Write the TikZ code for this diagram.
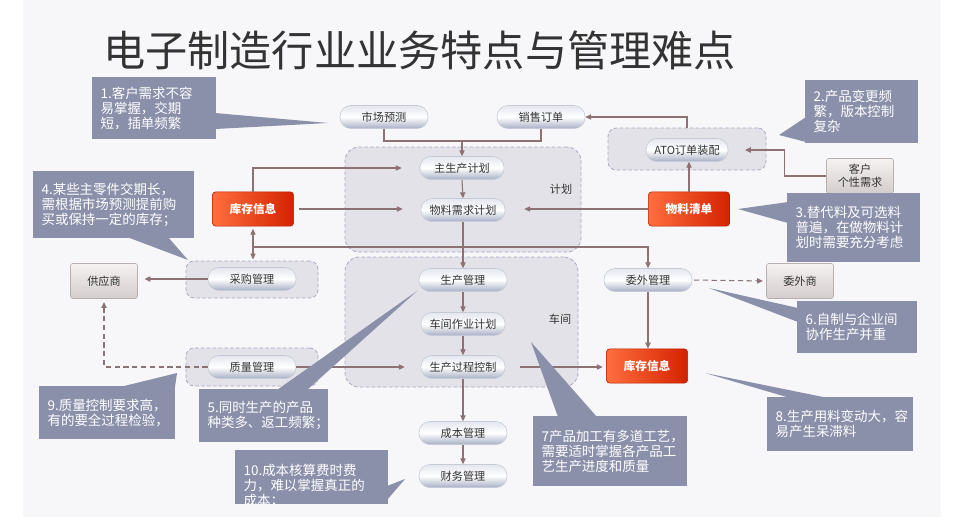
\documentclass[tikz,border=0pt]{standalone}
\usepackage{fontspec}
\usepackage{tikz}
\usetikzlibrary{arrows.meta, positioning, calc, fit}
\usepackage{xcolor}
\newfontfamily\cjk{Noto Sans CJK SC}
\definecolor{LBrown}{HTML}{8C7272}
\definecolor{CGray}{HTML}{8A90AA}
\definecolor{GFill}{HTML}{E2E2E8}
\definecolor{GLine}{HTML}{ABA7C8}
\definecolor{RedL}{HTML}{FF6E3E}
\definecolor{RedR}{HTML}{D42200}
\definecolor{PTop}{HTML}{E4E7EF}
\definecolor{PBot}{HTML}{A8B0C6}
\definecolor{PLine}{HTML}{C6CAD6}
\definecolor{BTop}{HTML}{F5F2F2}
\definecolor{BBot}{HTML}{D4CCCC}
\definecolor{BLine}{HTML}{B8B0B0}
\definecolor{SlideBg}{HTML}{F7F7F9}
\definecolor{DText}{HTML}{333333}

\begin{document}
\begin{tikzpicture}[x=0.03cm, y=-0.03cm, >={Triangle[length=5pt,width=4.5pt]},
  font=\cjk\fontsize{9.5}{11}\selectfont, text=DText,
  pill/.style={rounded corners=0.33cm, top color=PTop, bottom color=PBot, middle color=white,
    draw=PLine, line width=0.5pt, minimum width=2.64cm, minimum height=0.69cm, inner sep=0pt},
  pillsm/.style={pill, minimum width=2.52cm},
  redbox/.style={rounded corners=3pt, left color=RedL, right color=RedR, draw=RedR!85!black,
    line width=0.5pt, minimum width=2.44cm, minimum height=1.03cm, text=white,
    font=\cjk\bfseries\fontsize{10}{12}\selectfont},
  greybox/.style={rounded corners=2pt, top color=BTop, bottom color=BBot, draw=BLine,
    line width=0.5pt, minimum width=2.01cm, minimum height=1.05cm, align=center, inner sep=0pt},
  grp/.style={fill=GFill, draw=GLine, dash pattern=on 3pt off 2pt, line width=0.7pt,
    rounded corners=12pt, inner sep=0pt},
  grpsm/.style={grp, rounded corners=7pt},
  conn/.style={draw=LBrown, line width=0.9pt},
  dashconn/.style={conn, dash pattern=on 4.5pt off 3pt},
  notebox/.style={fill=CGray, text=white, anchor=north west, align=left, inner xsep=0.25cm,
    inner ysep=0pt, font=\cjk\fontsize{11.5}{12.8}\selectfont}
]
  \useasboundingbox (0,0) rectangle (964,521);
  % Slide
  \fill[white] (0,0) rectangle (964,521);
  \fill[SlideBg] (23,0) rectangle (941,517);
  \node[anchor=west, inner sep=0pt, font=\cjk\fontsize{36}{40}\selectfont] (title) at (103,50)
    {电子制造行业业务特点与管理难点};

  % Groups
  \node[grp, fit={(345,147) (581,252)}] (plangrp) {};
  \node[grp, fit={(345,257) (578,387)}] (shopgrp) {};
  \node[grpsm, fit={(608,128) (766,170)}] (atogrp) {};
  \node[grpsm, fit={(186,261) (318,298)}] (purgrp) {};
  \node[grpsm, fit={(186,348) (318,386)}] (qcgrp) {};
  \node (planlbl) at (561,189) {计划};
  \node (shoplbl) at (560,319) {车间};

  % Process steps
  \node[pill] (mkt) at (384,117) {市场预测};
  \node[pill] (sales) at (541,117) {销售订单};
  \node[pillsm] (mps) at (462,168) {主生产计划};
  \node[pillsm] (mrp) at (463,210) {物料需求计划};
  \node[pill] (prod) at (463,280) {生产管理};
  \node[pillsm] (shop) at (463,324) {车间作业计划};
  \node[pillsm] (ctrl) at (463,367) {生产过程控制};
  \node[pill] (cost) at (463,433) {成本管理};
  \node[pill] (fin) at (463,476) {财务管理};
  \node[pillsm, minimum width=2.46cm] (ato) at (687,150) {ATO订单装配};
  \node[pill] (pur) at (252,279) {采购管理};
  \node[pill] (qc) at (252,367) {质量管理};
  \node[pill] (outs) at (648,280) {委外管理};

  \node[redbox] (inv1) at (253,209) {库存信息};
  \node[redbox] (bom) at (689,209) {物料清单};
  \node[redbox] (inv2) at (647,366) {库存信息};

  \node[greybox] (sup) at (104,281) {供应商};
  \node[greybox] (sub) at (800,281) {委外商};
  \node[greybox] (cust) at (860,176) {客户\\个性需求};

  % Flows
  \coordinate (jn) at (462,141);
  \draw[conn, ->] (mkt.south) |- (jn) -- (mps.north);
  \draw[conn] (sales.south) |- (jn);
  \draw[conn, ->] (atogrp.north) |- (sales.east);
  \draw[conn, ->, shorten >=0.5cm] (cust.west) -- ++(-42,0) |- (ato.east);
  \draw[conn, ->] (bom.north) -- (bom.north |- ato.south);
  \draw[conn, ->, shorten >=0.57cm] (bom.west) -- (bom.west -| mrp.east);
  \draw[conn, ->] (mps.south) -- (mrp.north);
  \draw[conn, ->, shorten >=0.54cm] (inv1.north) |- (mps.west);
  \draw[conn, ->, shorten <=0.15cm, shorten >=0.54cm] (inv1.east) -- (inv1.east -| mrp.west);
  \draw[conn, <->, shorten <=2pt, shorten >=1pt] (inv1.south) -- (inv1.south |- purgrp.north);
  \coordinate (dist) at (253,247);
  \draw[conn, ->] (dist) -| (outs.north);
  \draw[conn, ->] (mrp.south) -- (prod.north);
  \foreach \a/\b in {prod/shop, shop/ctrl, ctrl/cost, cost/fin}
    \draw[conn, ->] (\a.south) -- (\b.north);
  \draw[conn, ->, shorten >=0.2cm] (pur.west) -- (pur.west -| sup.east);
  \draw[dashconn, ->, shorten >=0.1cm] (qc.west) -| (sup.south);
  \draw[conn, ->, shorten >=0.48cm] (qc.east) -- (qc.east -| ctrl.west);
  \draw[conn, ->, shorten <=0.45cm, shorten >=0.1cm] (ctrl.east) -- (ctrl.east -| inv2.west);
  \draw[conn, ->] (outs.south) -- (outs.south |- inv2.north);
  \draw[dashconn, ->, shorten <=0.05cm, shorten >=0.1cm] (outs.east) -- (sub.west);

  % Notes
  \fill[CGray] (215,113) -- (328,123) -- (215,129) -- cycle;
  \node[notebox, text width=3.22cm, minimum height=1.86cm] (c1) at (92,77)
    {1.客户需求不容\\易掌握，交期\\短，插单频繁};
  \fill[CGray] (806,117) -- (779,135) -- (806,142) -- cycle;
  \node[notebox, text width=2.89cm, minimum height=1.89cm] (c2) at (805,80)
    {2.产品变更频\\繁，版本控制\\复杂};
  \fill[CGray] (788,202) -- (738,209) -- (788,223) -- cycle;
  \node[notebox, text width=3.49cm, minimum height=2.07cm] (c3) at (787,193)
    {3.替代料及可选料\\普遍，在做物料计\\划时需要充分考虑};
  \fill[CGray] (127,237) -- (188,260) -- (168,237) -- cycle;
  \node[notebox, text width=4.33cm, minimum height=2.01cm] (c4) at (33,171)
    {4.某些主零件交期长，\\需根据市场预测提前购\\买或保持一定的库存；};
  \fill[CGray] (277,390) -- (417,291) -- (307,390) -- cycle;
  \node[notebox, text width=3.37cm, minimum height=1.59cm] (c5) at (199,389)
    {5.同时生产的产品\\种类多、返工频繁；};
  \fill[CGray] (798,308) -- (709,288) -- (798,322) -- cycle;
  \node[notebox, text width=3.10cm, minimum height=1.56cm] (c6) at (797,301)
    {6.自制与企业间\\协作生产并重};
  \fill[CGray] (558,417) -- (531,342) -- (597,417) -- cycle;
  \node[notebox, text width=4.12cm, minimum height=2.10cm] (c7) at (533,416)
    {7产品加工有多道工艺，\\需要适时掌握各产品工\\艺生产进度和质量};
  \fill[CGray] (790,398) -- (705,373) -- (828,398) -- cycle;
  \node[notebox, text width=3.88cm, minimum height=1.62cm] (c8) at (767,397)
    {8.生产用料变动大，容\\易产生呆滞料};
  \fill[CGray] (120,387) -- (177,373) -- (175,387) -- cycle;
  \node[notebox, text width=3.58cm, minimum height=1.59cm] (c9) at (39,386)
    {9.质量控制要求高，\\有的要全过程检验，};
  \fill[CGray] (387,486) -- (405,479) -- (387,500) -- cycle;
  \begin{scope}
    \clip (0,0) rectangle (964,503);
    \node[notebox, text width=4.09cm, minimum height=2.16cm] (c10) at (235,450)
      {10.成本核算费时费\\力，难以掌握真正的\\成本；};
  \end{scope}
\end{tikzpicture}
\end{document}
